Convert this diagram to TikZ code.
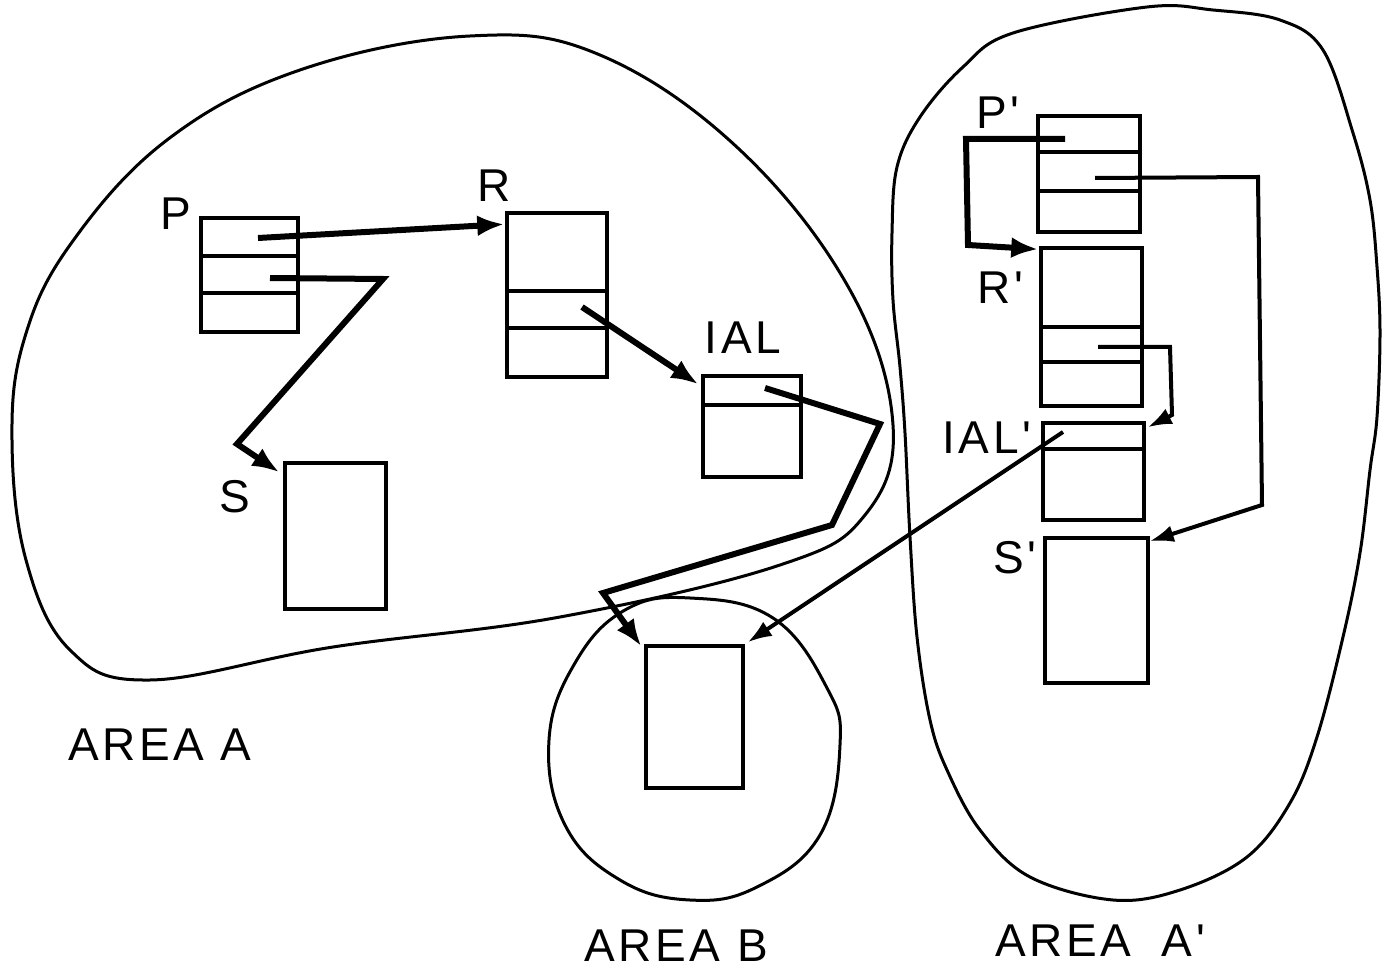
\documentclass[tikz,border=0pt]{standalone}
\usepackage{fontspec}
\setmainfont{Liberation Sans}
\newfontfamily\lettering[LetterSpace=8]{Liberation Sans}
\usetikzlibrary{arrows.meta,calc}

\begin{document}
\begin{tikzpicture}[x=1pt,y=-1pt,
  area/.style={line width=3pt, line join=round},
  cell/.style={draw, line width=3.5pt, inner sep=0pt},
  divider/.style={line width=3.5pt},
  link/.style={line width=6pt, line join=miter, -{Latex[length=27pt,width=21pt]}},
  thinlink/.style={line width=4pt, line join=miter, -{Latex[length=24pt,width=17pt]}},
  lbl/.style={font=\fontsize{46}{50}\selectfont\lettering, inner sep=0pt},
]
\fill[white] (0,0) rectangle (1390,973);
\useasboundingbox (0,0) rectangle (1390,973);

% ---- area outlines ----
\draw[area] plot[smooth cycle, tension=0.65] coordinates {
  (12,440) (24,340) (70,245) (167,140) (300,70) (470,36) (600,55)
  (740,150) (850,290) (893,425) (865,515) (780,565) (560,617)
  (333,647) (150,680) (70,650) (26,560)};

\draw[area] plot[smooth cycle, tension=0.7] coordinates {
  (690,598) (773,618) (827,688) (840,745) (820,835) (757,887) (690,900)
  (620,880) (565,825) (549,740) (575,663) (625,610)};

\draw[area] plot[smooth cycle, tension=0.6] coordinates {
  (1147,7) (1213,10) (1280,20) (1323,50) (1353,133) (1370,200) (1377,267)
  (1380,333) (1377,417) (1370,470) (1360,553) (1343,637) (1317,737)
  (1290,803) (1247,857) (1180,890) (1113,900) (1030,877) (980,830)
  (947,770) (930,720) (917,637) (910,537) (905,433) (900,367) (893,300)
  (892,233) (897,167) (920,117) (963,67) (1013,33)};

% ---- records ----
\node[cell, minimum width=97pt,  minimum height=114pt] (P)    at (249.5,275)  {};
\node[cell, minimum width=100pt, minimum height=164pt] (R)    at (557,295)    {};
\node[cell, minimum width=101pt, minimum height=146pt] (S)    at (335.5,536)  {};
\node[cell, minimum width=98pt,  minimum height=101pt] (IAL)  at (752,426.5)  {};
\node[cell, minimum width=97pt,  minimum height=142pt] (B)    at (694.5,717)  {};
\node[cell, minimum width=102pt, minimum height=116pt] (Pp)   at (1089,174)   {};
\node[cell, minimum width=101pt, minimum height=158pt] (Rp)   at (1091.5,327) {};
\node[cell, minimum width=101pt, minimum height=97pt]  (IALp) at (1093.5,471.5) {};
\node[cell, minimum width=103pt, minimum height=145pt] (Sp)   at (1096.5,610.5) {};

% field dividers
\foreach \n/\d in {P/40, P/77, R/80, R/117, IAL/31, Pp/38, Pp/77, Rp/81, Rp/116, IALp/28}
  \draw[divider] ($(\n.north west)+(0,\d)$) -- ($(\n.north east)+(0,\d)$);

% ---- labels ----
\node[lbl] (lP)    at (176,214)  {P};
\node[lbl] (lR)    at (494,186)  {R};
\node[lbl] (lS)    at (235,497)  {S};
\node[lbl] (lIAL)  at (743,338)  {IAL};
\node[lbl] (lPp)   at (998,113)  {P'};
\node[lbl] (lRp)   at (1000,288) {R'};
\node[lbl] (lIALp) at (987,438)  {IAL'};
\node[lbl] (lSp)   at (1015,558) {S'};
\node[lbl] (lA)    at (160,745)  {AREA A};
\node[lbl] (lB)    at (676,946)  {AREA B};
\node[lbl] (lAp)   at (1100,941) {AREA\hspace{14pt} A'};

% ---- pointer fields ----
\coordinate (p1)   at (258,238);
\coordinate (p2)   at (270,278);
\coordinate (r2)   at (582,307);
\coordinate (ial1) at (765,388);
\coordinate (pp1)  at (1065,139);
\coordinate (pp2)  at (1095,178);
\coordinate (rp2)  at (1098,347);
\coordinate (ialp1) at (1063,432);

% ---- pointers ----
\draw[link] (p1) -- ($(R.north west)+(-1,13)$);
\draw[link] (p2) -- (383,279) -- (237,444) -- ($(S.north west)+(-4,11)$);
\draw[link] (r2) -- ($(IAL.north west)+(-3,10)$);
\draw[link] (ial1) -- (880,424) -- (832,525) -- (603,593) -- ($(B.north west)+(-3,2)$);
\draw[link] (pp1) -- (966,139) -- (968,245) -- ($(Rp.north west)+(-1,3)$);
\draw[thinlink] (pp2) -- (1258,177) -- (1262,505) -- ($(Sp.north east)+(0,5)$);
\draw[thinlink] (rp2) -- (1170,347) -- (1172,415) -- ($(IALp.north east)+(2,6)$);
\draw[thinlink] (ialp1) -- ($(B.north east)+(3,-2)$);

\end{tikzpicture}
\end{document}
